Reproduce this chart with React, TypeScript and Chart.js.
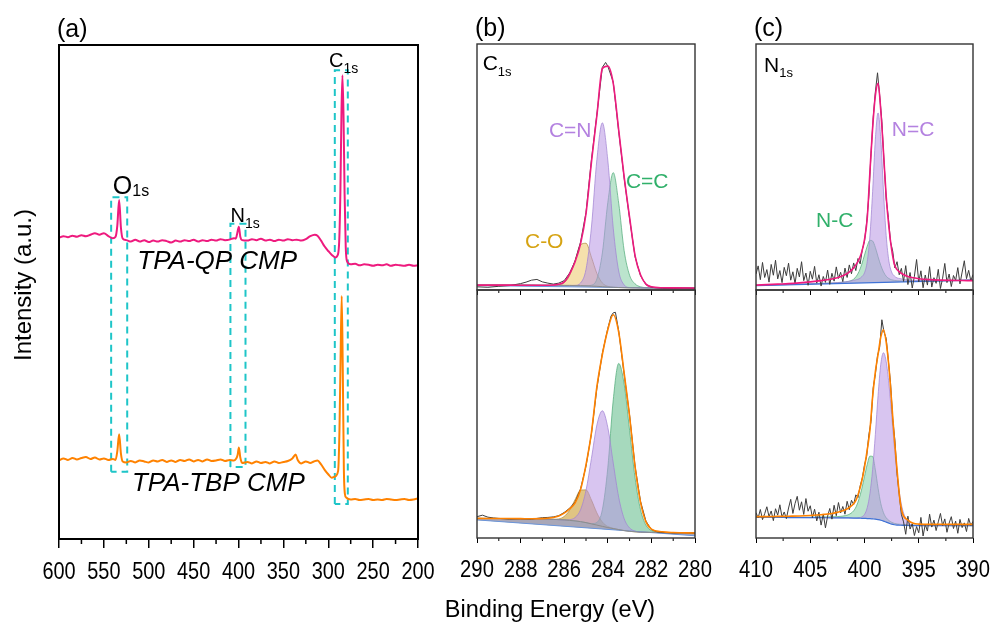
import React, { useEffect, useRef } from "react";
import { Chart, registerables } from "chart.js";
Chart.register(...registerables);

// ---------------- Panel (a): survey spectra ----------------
const SURVEY_MINOR = [575, 525, 475, 425, 375, 325, 275, 225];
const QP_BE = [600,595,590,585,580,575,570,565,560,555,550,545,540,537,535,533,531,529,525,520,515,510,505,500,495,490,485,480,475,470,465,460,455,450,445,440,435,430,425,420,415,410,405,403,401.5,399.6,398,396,390,385,380,375,370,365,360,355,350,345,340,335,330,325,320,315,312,308,304,300,296,292,290,288,286.5,285.3,284.2,283,281.8,280.5,279,275,270,265,260,255,250,245,240,235,230,225,220,215,210,205,200];
const QP_INT = [61.0,61.3,61.1,61.4,61.2,61.5,61.3,61.6,61.9,61.6,61.9,61.3,60.9,61.2,63.5,68.6,63.0,60.8,60.5,60.2,60.6,60.2,60.5,60.1,60.4,60.2,60.5,60.3,60.0,60.4,60.2,60.5,60.3,60.6,60.2,60.5,60.3,60.6,60.4,60.7,60.5,60.6,60.9,60.8,61.8,63.2,61.2,60.5,60.4,60.7,60.5,60.8,60.4,60.6,60.3,60.6,60.4,60.7,60.5,60.6,60.4,60.7,61.3,61.6,61.4,60.4,59.2,58.3,57.5,57.0,57.3,59.5,70,86,93.9,86,70,59,56.2,55.6,55.7,55.4,55.6,55.5,55.3,55.5,55.4,55.6,55.3,55.5,55.4,55.3,55.5,55.3,55.4];
const TBP_BE = [600,595,590,585,580,575,570,565,560,555,550,545,540,537,535,533,531,529,525,520,515,510,505,500,495,490,485,480,475,470,465,460,455,450,445,440,435,430,425,420,415,410,405,402.5,401,399.6,398,396,390,385,380,375,370,365,360,355,350,345,340,336.3,334,330,325,320,316,312,308,304,300,296,293,289,287.5,286.3,285,283.8,282.6,281.5,280,275,270,265,260,255,250,245,240,235,230,225,220,215,210,205,200];
const TBP_INT = [15.9,16.3,16.0,16.4,16.1,16.4,16.6,16.2,16.5,16.1,16.3,16.0,16.2,16.0,17.8,21.2,17.3,15.7,15.5,15.8,15.5,15.9,15.7,15.5,15.9,15.7,16.0,15.6,15.9,15.6,16.0,15.8,16.1,15.7,16.0,15.7,16.1,15.8,15.9,16.1,15.8,16.0,15.9,16.3,17.0,18.5,16.5,15.4,15.6,15.3,15.7,15.4,15.6,15.3,15.7,15.4,15.6,15.8,16.3,17.1,16.0,15.3,15.7,15.4,15.7,15.9,15.1,14.0,13.1,12.4,12.6,13.8,22,36,49.2,34,14,9.2,8.4,8.0,8.1,7.9,8.0,8.1,7.9,8.0,7.9,8.1,8.0,7.9,8.0,8.1,7.9,8.0,8.2];
const BOX_O_BE = [541.9, 541.9, 524, 524, 541.9];
const BOX_O_INT = [13.6, 69.2, 69.2, 13.6, 13.6];
const BOX_N_BE = [409, 409, 392.2, 392.2, 409];
const BOX_N_INT = [14.6, 63.8, 63.8, 14.6, 14.6];
const BOX_C_BE = [292.7, 292.7, 278.2, 278.2, 292.7];
const BOX_C_INT = [7.1, 94.9, 94.9, 7.1, 7.1];

// ---------------- Panel (b): C1s ----------------
const C1S_MINOR = [289, 287, 285, 283, 281];
const C1S_BE = [290,289,288,287.5,287,286.5,286.25,286,285.75,285.5,285.25,285,284.75,284.5,284.25,284,283.75,283.5,283.25,283,282.75,282.5,282.25,282,281.5,281,280];
const LIN_BE = [290, 280];
// top (TPA-QP CMP)
const QP_C_SHIRLEY = [2.0,2.0,1.95,1.95,1.9,1.9,1.9,1.85,1.85,1.8,1.75,1.7,1.6,1.5,1.35,1.2,1.1,1.0,0.95,0.9,0.9,0.85,0.85,0.85,0.8,0.8,0.8];
const QP_C_LIN = [1.8, 0.6];
const QP_C_CO = [2.0,2.0,1.95,1.95,1.9,1.9,2.1,2.95,5.95,12.1,18.35,19.0,13.3,6.7,2.85,1.5,1.1,1.0,0.95,0.9,0.9,0.85,0.85,0.85,0.8,0.8,0.8];
const QP_C_CN = [2.0,2.0,1.95,1.95,1.9,1.9,1.9,1.85,1.85,1.9,2.85,8.4,25.6,53.1,67.95,52.8,25.1,7.7,2.05,1.0,0.9,0.85,0.85,0.85,0.8,0.8,0.8];
const QP_C_CC = [2.0,2.0,1.95,1.95,1.9,1.9,1.9,1.85,1.85,1.8,1.75,1.7,1.95,4.5,15.05,35.5,47.7,35.3,16.0,6.0,2.5,1.3,0.95,0.85,0.8,0.8,0.8];
const QP_C_FIT = [2.0,2.0,1.95,1.95,1.95,2.05,2.3,3.3,6.6,11.5,18.8,31,52,71,90,91,84,65,46,29.5,14,6.2,2.4,1.3,0.9,0.85,0.8];
const QP_C_RAW_BE = [290,289.5,289,288.5,288,287.75,287.5,287.25,287,286.75,286.5,286.25,286,285.75,285.5,285.25,285,284.75,284.5,284.25,284.1,284,283.75,283.5,283.25,283,282.75,282.5,282.25,282,281.5,281,280.5,280];
const QP_C_RAW = [1.3,1.1,1.5,1.8,2.6,3.2,4.0,4.3,3.3,2.8,2.4,2.8,3.8,6.9,11.8,19.5,31.5,53,71.5,90.5,92.5,91,84.5,64.5,45.5,29,13.5,5.8,2.2,1.1,0.7,0.6,0.7,0.6];
// bottom (TPA-TBP CMP)
const TBP_C_SHIRLEY = [7.9,7.85,7.75,7.7,7.6,7.5,7.4,7.3,7.1,6.9,6.6,6.2,5.7,5.2,4.7,4.2,3.8,3.4,3.0,2.7,2.5,2.35,2.3,2.25,2.2,2.15,2.1];
const TBP_C_LIN = [7.3, 0.9];
const TBP_C_CO = [7.9,7.85,7.75,7.7,7.6,7.55,7.7,8.7,11.2,15.5,19.3,19.4,15.3,10.1,6.45,4.65,3.9,3.4,3.0,2.7,2.5,2.35,2.3,2.25,2.2,2.15,2.1];
const TBP_C_CN = [7.9,7.85,7.75,7.7,7.6,7.5,7.4,7.3,7.4,8.25,11.4,19.2,32.1,45.6,51.3,44.6,30.2,16.4,7.8,4.05,2.8,2.35,2.3,2.25,2.2,2.15,2.1];
const TBP_C_CC = [7.9,7.85,7.75,7.7,7.6,7.5,7.4,7.3,7.1,6.9,6.6,6.2,5.8,6.3,11.4,28.3,55.7,70.4,62.1,43.4,24.3,11.45,5.2,3.0,2.2,2.15,2.1];
const TBP_C_FIT = [7.9,7.85,7.8,7.75,7.8,8.3,8.9,10.0,11.8,14.2,19.5,29.5,42.5,61,74,84,90,83,66.5,49,28.8,14.5,6.5,3.6,2.5,2.2,2.0];
const TBP_C_RAW_BE = [290,289.75,289.5,289.25,289,288.5,288,287.5,287,286.75,286.5,286.25,286,285.75,285.5,285.25,285,284.75,284.5,284.25,284,283.85,283.75,283.65,283.5,283.25,283,282.75,282.5,282.25,282,281.75,281.5,281,280.5,280];
const TBP_C_RAW = [8.6,9.2,8.4,8.1,7.9,7.6,7.7,7.6,8.2,8.3,8.5,9.0,10.3,12.0,14.5,19.8,29.0,42,60.5,74.5,84.5,89.5,90.8,91,83.5,66,49.5,29,14.8,6.8,3.4,2.5,2.2,2.0,2.1,1.9];

// ---------------- Panel (c): N1s ----------------
const N1S_MINOR = [407.5, 402.5, 397.5, 392.5];
const N1S_BE = [410,409,408,407,406,405,404,403,402.5,402,401.5,401,400.75,400.5,400.25,400,399.75,399.5,399.25,399,398.75,398.5,398.25,398,397.75,397.5,397.25,397,396.75,396.5,396,395.5,395,394,393,392,391,390];
const BG_N_BE = [410, 390];
const QP_N_BG = [1.8, 4.0];
const QP_N_NC = [1.84,1.96,2.09,2.21,2.35,2.5,2.67,2.89,3.02,3.2,3.5,3.9,4.2,4.55,5.4,7.0,11.5,22.0,40.1,61.3,72.0,61.4,40.2,22.1,11.75,7.3,5.7,4.9,4.66,4.4,4.08,3.95,3.86,3.81,3.84,3.9,3.99,4.08];
const QP_N_NCS = [1.9,2.0,2.12,2.24,2.36,2.5,2.7,2.8,2.95,3.15,3.45,4.4,5.6,7.55,10.5,14.2,17.8,20.2,19.9,17.3,13.5,10.05,7.35,5.6,4.65,4.15,3.9,3.75,3.72,3.65,3.65,3.6,3.6,3.65,3.74,3.84,3.94,4.05];
const QP_N_FIT = [2.0,2.2,2.4,2.6,2.9,3.3,3.8,4.5,5.0,5.8,7.0,9.0,10.5,12.5,15.5,20.5,29,48,66,79,84,73,56,38,25.5,16.5,10.5,8.3,7.3,6.5,5.5,5.0,4.6,4.2,4.0,3.9,3.85,3.8];
const N_RAW_BE = [410,409.8,409.6,409.4,409.2,409,408.8,408.6,408.4,408.2,408,407.8,407.6,407.4,407.2,407,406.8,406.6,406.4,406.2,406,405.8,405.6,405.4,405.2,405,404.8,404.6,404.4,404.2,404,403.8,403.6,403.4,403.2,403,402.8,402.6,402.4,402.2,402,401.8,401.6,401.4,401.2,401,400.8,400.6,400.4,400.2,400,399.8,399.6,399.4,399.2,399,398.8,398.6,398.4,398.2,398,397.8,397.6,397.4,397.2,397,396.8,396.6,396.4,396.2,396,395.8,395.6,395.4,395.2,395,394.8,394.6,394.4,394.2,394,393.8,393.6,393.4,393.2,393,392.8,392.6,392.4,392.2,392,391.8,391.6,391.4,391.2,391,390.8,390.6,390.4,390.2,390];
const QP_N_RAW = [6.5,9.8,4.2,11.2,5.1,8.3,3.2,10.4,6.0,12.1,4.5,7.9,3.0,9.2,5.8,10.9,4.0,7.4,2.6,8.8,5.3,11.5,3.8,6.9,1.9,7.6,4.4,9.6,2.8,6.2,1.6,5.5,3.1,8.1,2.3,6.8,3.6,9.4,4.7,7.2,3.4,8.9,5.1,10.2,6.6,11.0,7.9,12.8,10.6,16.5,19.8,27.5,38.0,55.5,70.0,80.5,88.3,79.0,68.5,52.0,37.0,29.5,19.5,15.8,9.0,11.5,6.2,8.8,3.5,9.9,2.2,7.1,0.8,5.6,12.4,3.3,7.8,0.9,6.1,2.0,9.5,1.2,5.0,2.7,8.4,0.6,4.8,10.8,3.0,6.5,1.4,5.9,3.9,9.1,2.5,7.3,11.9,4.6,8.0,3.7,6.3];
const TBP_N_SHIRLEY = [8.3,8.3,8.3,8.25,8.25,8.2,8.2,8.15,8.15,8.1,8.1,8.05,8.0,8.0,7.95,7.9,7.85,7.8,7.7,7.6,7.4,7.15,6.8,6.4,6.0,5.6,5.35,5.2,5.15,5.1,5.05,5.0,5.0,5.0,5.0,5.0,5.0,5.0];
const TBP_N_NC = [8.3,8.3,8.3,8.25,8.25,8.2,8.2,8.15,8.15,8.1,8.1,8.05,8.05,8.15,8.5,9.5,12.2,17.9,27.7,41.8,57.4,70.05,74.7,71.1,62.1,49.8,36.95,25.8,17.3,11.6,6.45,5.2,5.0,5.0,5.0,5.0,5.0,5.0];
const TBP_N_NCS = [8.3,8.3,8.3,8.25,8.3,8.35,8.46,8.55,8.65,8.85,9.36,10.95,12.8,15.8,19.85,24.8,29.65,33.0,32.9,27.5,20.1,13.95,10.2,8.15,7.06,6.35,5.9,5.66,5.55,5.45,5.3,5.2,5.15,5.1,5.05,5.0,5.0,5.0];
const TBP_N_FIT = [8.6,8.6,8.7,8.8,8.9,9.1,9.4,9.9,10.4,11.0,12.0,13.8,15.6,18.8,23.0,28.5,35.5,43.5,57,67,74,81,84,79,69,55,40,27.5,16,10.0,7.2,5.9,5.6,5.5,5.5,5.5,5.5,5.5];
const TBP_N_RAW = [10.2,8.1,11.5,7.4,9.8,12.6,8.6,10.9,7.0,11.8,9.2,13.4,8.4,10.5,7.8,12.1,15.6,9.9,13.9,16.8,11.2,14.6,9.5,15.9,10.8,13.0,8.2,11.6,6.9,10.4,5.2,9.7,4.1,8.8,11.9,7.6,13.2,9.0,14.3,10.1,12.7,9.6,14.8,11.4,15.2,13.5,17.4,16.3,21.0,24.2,29.5,33.0,41.5,47.0,60.5,66.0,73.5,77.0,88.0,83.0,80.5,71.5,62.5,48.0,39.5,26.0,17.5,9.5,6.5,1.5,8.8,3.6,5.8,1.0,4.6,2.1,8.3,0.8,5.5,2.8,9.6,4.4,7.2,3.0,6.5,9.9,4.9,7.7,2.3,6.0,8.6,3.8,6.8,1.9,7.5,4.2,6.1,2.6,7.9,5.0,6.7];

// ---------------- styling ----------------
const SANS = '"Liberation Sans", Arial, sans-serif';
const PINK = "#EE1A7E";
const ORANGE = "#FF8200";
const CYAN = "#1EC5C8";
const PURPLE_FILL = "rgba(184,150,228,0.55)";
const PURPLE_LINE = "rgba(160,130,210,0.9)";
const GREEN_FILL = "rgba(94,190,136,0.42)";
const GREEN_FILL_2 = "rgba(84,182,128,0.52)";
const GREEN_LINE = "rgba(80,170,120,0.9)";
const GOLD_FILL = "rgba(232,186,70,0.45)";
const GOLD_FILL_2 = "rgba(205,160,55,0.62)";
const GOLD_LINE = "rgba(170,135,55,0.9)";
const PURPLE_TXT = "#B482E0";
const GREEN_TXT = "#30B06A";
const GOLD_TXT = "#D6A312";

const pts = (xs: number[], ys: number[]) => xs.map((x, i) => ({ x, y: ys[i] }));

type TextItem = {
  t: string; sub?: string; x: number; y: number; px?: boolean;
  font: string; subFont?: string; subDy?: number; color: string; rot?: number; center?: boolean;
};

const decor = {
  id: "decor",
  afterDraw(chart: any, _args: any, o: any) {
    const { ctx, chartArea: ca, scales } = chart;
    ctx.save();
    if (o.minor) {
      ctx.strokeStyle = "#000";
      ctx.lineWidth = o.minor.width;
      ctx.beginPath();
      for (const v of o.minor.values) {
        const x = scales.x.getPixelForValue(v);
        ctx.moveTo(x, ca.bottom);
        ctx.lineTo(x, ca.bottom + o.minor.len);
      }
      ctx.stroke();
    }
    // tick labels of the x scale (condensed glyphs like the reference)
    if (o.tickLabels) {
      const tl = o.tickLabels;
      ctx.fillStyle = "#000";
      ctx.textAlign = "center";
      ctx.textBaseline = "alphabetic";
      ctx.font = `${tl.size}px ${SANS}`;
      for (const tk of scales.x.ticks) {
        const x = scales.x.getPixelForValue(tk.value);
        ctx.save();
        ctx.translate(x, ca.bottom + tl.dy);
        ctx.scale(tl.sx, 1);
        ctx.fillText(String(tk.value), 0, 0);
        ctx.restore();
      }
    }
    ctx.strokeStyle = o.frame.color;
    ctx.lineWidth = o.frame.width;
    ctx.strokeRect(ca.left, ca.top, ca.right - ca.left, ca.bottom - ca.top);
    for (const it of (o.texts || []) as TextItem[]) {
      let x: number, y: number;
      if (it.px) { x = ca.left + it.x; y = ca.top + it.y; }
      else { x = scales.x.getPixelForValue(it.x); y = scales.y.getPixelForValue(it.y); }
      ctx.save();
      ctx.translate(x, y);
      if (it.rot) ctx.rotate(it.rot);
      ctx.fillStyle = it.color;
      ctx.textBaseline = "alphabetic";
      ctx.textAlign = "left";
      ctx.font = it.font;
      const w = ctx.measureText(it.t).width;
      let total = w;
      if (it.sub && it.subFont) { ctx.font = it.subFont; total += ctx.measureText(it.sub).width; ctx.font = it.font; }
      const x0 = it.center ? -total / 2 : 0;
      ctx.fillText(it.t, x0, 0);
      if (it.sub && it.subFont) { ctx.font = it.subFont; ctx.fillText(it.sub, x0 + w, it.subDy || 0); }
      ctx.restore();
    }
    ctx.restore();
  },
};

function xAxis(min: number, max: number, step: number, o: { tl: number; h: number; lw: number }) {
  return {
    type: "linear", reverse: true, min, max,
    afterFit: (s: any) => { s.height = o.h; },
    ticks: { display: false, stepSize: step, autoSkip: false, maxRotation: 0, minRotation: 0 },
    grid: { display: true, drawOnChartArea: false, drawTicks: true, tickLength: o.tl, tickWidth: o.lw, tickColor: "#000", color: "#000", lineWidth: o.lw },
    border: { display: false },
  };
}

function baseOptions(padding: any, x: any, decorOpts: any) {
  return {
    responsive: false, animation: false, events: [],
    layout: { padding },
    scales: { x, y: { display: false, min: 0, max: 100 } },
    plugins: { legend: { display: false }, tooltip: { enabled: false }, decor: decorOpts },
  };
}

function line(data: any[], color: string, width: number, order: number, smooth = true, extra: any = {}) {
  return {
    data, borderColor: color, borderWidth: width, pointRadius: 0, fill: false, order,
    tension: 0, cubicInterpolationMode: smooth ? "monotone" : "default", ...extra,
  };
}

function component(xs: number[], ys: number[], fillCol: string, lineCol: string, target: number, order: number) {
  return line(pts(xs, ys), lineCol, 0.8, order, true, { fill: target, backgroundColor: fillCol });
}

export default function App() {
  const ra = useRef<HTMLCanvasElement>(null);
  const rb1 = useRef<HTMLCanvasElement>(null);
  const rb2 = useRef<HTMLCanvasElement>(null);
  const rc1 = useRef<HTMLCanvasElement>(null);
  const rc2 = useRef<HTMLCanvasElement>(null);

  useEffect(() => {
    const charts: Chart[] = [];
    const labelsA = { size: 24, sx: 0.83, dy: 40 };
    const labelsB = { size: 23, sx: 0.88, dy: 38.5 };

    // ---- (a)
    const boxStyle = { borderDash: [7, 5] };
    charts.push(new Chart(ra.current!, {
      type: "line",
      data: {
        datasets: [
          line(pts(QP_BE, QP_INT), PINK, 2, 0),
          line(pts(TBP_BE, TBP_INT), ORANGE, 2, 1),
          line(pts(BOX_O_BE, BOX_O_INT), CYAN, 2, 5, false, boxStyle),
          line(pts(BOX_N_BE, BOX_N_INT), CYAN, 2, 5, false, boxStyle),
          line(pts(BOX_C_BE, BOX_C_INT), CYAN, 2, 5, false, boxStyle),
        ] as any,
      },
      options: baseOptions(
        { left: 59, right: 22, top: 45, bottom: 0 },
        xAxis(200, 600, 50, { tl: 9, h: 61, lw: 1.5 }),
        {
          frame: { color: "#000", width: 2 },
          minor: { values: SURVEY_MINOR, len: 5, width: 1.5 },
          tickLabels: labelsA,
          texts: [
            { t: "(a)", x: -2, y: -8.5, px: true, font: `25px ${SANS}`, color: "#000" },
            { t: "Intensity (a.u.)", x: -28.3, y: 240, px: true, font: `24px ${SANS}`, color: "#000", rot: -Math.PI / 2, center: true },
            { t: "O", sub: "1s", x: 540, y: 69.8, font: `25px ${SANS}`, subFont: `16px ${SANS}`, subDy: 1.5, color: "#000" },
            { t: "N", sub: "1s", x: 408.9, y: 64.2, font: `20px ${SANS}`, subFont: `14px ${SANS}`, subDy: 6, color: "#000" },
            { t: "C", sub: "1s", x: 299.1, y: 95.5, font: `20px ${SANS}`, subFont: `14px ${SANS}`, subDy: 6, color: "#000" },
            { t: "TPA-QP CMP", x: 512.8, y: 54.7, font: `italic 26px ${SANS}`, color: "#000" },
            { t: "TPA-TBP CMP", x: 518.8, y: 9.7, font: `italic 26px ${SANS}`, color: "#000" },
          ],
        }
      ) as any,
      plugins: [decor],
    }));

    // ---- (b)
    const bDatasets = (fit: number[], fitCol: string, rawBE: number[], raw: number[], shirley: number[], lin: number[], co: number[], cn: number[], cc: number[], goldFill: string, greenFill: string) => [
      line(pts(C1S_BE, fit), fitCol, 1.6, 0),
      line(pts(rawBE, raw), "#3c3c3c", 1, 1, false),
      line(pts(C1S_BE, shirley), "#8c8c8c", 1, 2),
      line(pts(LIN_BE, lin), "#6b95dc", 1, 3, false),
      component(C1S_BE, co, goldFill, GOLD_LINE, 3, 6),
      component(C1S_BE, cn, PURPLE_FILL, PURPLE_LINE, 3, 4),
      component(C1S_BE, cc, greenFill, GREEN_LINE, 3, 5),
    ];

    charts.push(new Chart(rb1.current!, {
      type: "line",
      data: { datasets: bDatasets(QP_C_FIT, PINK, QP_C_RAW_BE, QP_C_RAW, QP_C_SHIRLEY, QP_C_LIN, QP_C_CO, QP_C_CN, QP_C_CC, GOLD_FILL, GREEN_FILL) as any },
      options: baseOptions(
        { left: 37, right: 25, top: 44, bottom: 0 },
        xAxis(280, 290, 2, { tl: 5, h: 10, lw: 1 }),
        {
          frame: { color: "#333", width: 1.4 },
          minor: { values: C1S_MINOR, len: 3, width: 1 },
          texts: [
            { t: "(b)", x: -2, y: -8, px: true, font: `25px ${SANS}`, color: "#000" },
            { t: "C", sub: "1s", x: 5.7, y: 26, px: true, font: `21px ${SANS}`, subFont: `13px ${SANS}`, subDy: 6, color: "#000" },
            { t: "C=N", x: 286.7, y: 62.3, font: `21px ${SANS}`, color: PURPLE_TXT },
            { t: "C=C", x: 283.17, y: 41.5, font: `21px ${SANS}`, color: GREEN_TXT },
            { t: "C-O", x: 287.8, y: 17.1, font: `21px ${SANS}`, color: GOLD_TXT },
          ],
        }
      ) as any,
      plugins: [decor],
    }));

    charts.push(new Chart(rb2.current!, {
      type: "line",
      data: { datasets: bDatasets(TBP_C_FIT, ORANGE, TBP_C_RAW_BE, TBP_C_RAW, TBP_C_SHIRLEY, TBP_C_LIN, TBP_C_CO, TBP_C_CN, TBP_C_CC, GOLD_FILL_2, GREEN_FILL_2) as any },
      options: baseOptions(
        { left: 37, right: 25, top: 10, bottom: 0 },
        xAxis(280, 290, 2, { tl: 5, h: 88, lw: 1 }),
        {
          frame: { color: "#333", width: 1.4 },
          minor: { values: C1S_MINOR, len: 3, width: 1 },
          tickLabels: labelsB,
          texts: [
            { t: "Binding Energy (eV)", x: 73, y: 327, px: true, font: `23.5px ${SANS}`, color: "#000", center: true },
          ],
        }
      ) as any,
      plugins: [decor],
    }));

    // ---- (c)
    const cDatasetsTop = [
      line(pts(N1S_BE, QP_N_FIT), PINK, 1.6, 0),
      line(pts(N_RAW_BE, QP_N_RAW), "#3c3c3c", 1, 1, false),
      line(pts(BG_N_BE, QP_N_BG), "#3F72D6", 1.2, 2, false),
      component(N1S_BE, QP_N_NC, PURPLE_FILL, PURPLE_LINE, 2, 3),
      component(N1S_BE, QP_N_NCS, GREEN_FILL, GREEN_LINE, 2, 4),
    ];
    charts.push(new Chart(rc1.current!, {
      type: "line",
      data: { datasets: cDatasetsTop as any },
      options: baseOptions(
        { left: 36, right: 22, top: 44, bottom: 0 },
        xAxis(390, 410, 5, { tl: 5, h: 10, lw: 1 }),
        {
          frame: { color: "#333", width: 1.4 },
          minor: { values: N1S_MINOR, len: 3, width: 1 },
          texts: [
            { t: "(c)", x: -2, y: -8, px: true, font: `25px ${SANS}`, color: "#000" },
            { t: "N", sub: "1s", x: 8, y: 27.7, px: true, font: `21px ${SANS}`, subFont: `13px ${SANS}`, subDy: 5.5, color: "#000" },
            { t: "N=C", x: 397.49, y: 62.6, font: `21px ${SANS}`, color: PURPLE_TXT },
            { t: "N-C", x: 404.47, y: 25.6, font: `21px ${SANS}`, color: GREEN_TXT },
          ],
        }
      ) as any,
      plugins: [decor],
    }));

    const cDatasetsBot = [
      line(pts(N1S_BE, TBP_N_FIT), ORANGE, 1.6, 0),
      line(pts(N_RAW_BE, TBP_N_RAW), "#3c3c3c", 1, 1, false),
      line(pts(N1S_BE, TBP_N_SHIRLEY), "#3F72D6", 1.2, 2),
      component(N1S_BE, TBP_N_NC, PURPLE_FILL, PURPLE_LINE, 2, 3),
      component(N1S_BE, TBP_N_NCS, GREEN_FILL, GREEN_LINE, 2, 4),
    ];
    charts.push(new Chart(rc2.current!, {
      type: "line",
      data: { datasets: cDatasetsBot as any },
      options: baseOptions(
        { left: 36, right: 22, top: 10, bottom: 0 },
        xAxis(390, 410, 5, { tl: 5, h: 88, lw: 1 }),
        {
          frame: { color: "#333", width: 1.4 },
          minor: { values: N1S_MINOR, len: 3, width: 1 },
          tickLabels: labelsB,
          texts: [],
        }
      ) as any,
      plugins: [decor],
    }));

    return () => charts.forEach((c) => c.destroy());
  }, []);

  const abs = (l: number, t: number): React.CSSProperties => ({ position: "absolute", left: l, top: t });
  return (
    <div style={{ position: "fixed", left: 0, top: 0, width: 995, height: 626, background: "#fff", overflow: "hidden" }}>
      <canvas ref={ra} width={440} height={600} style={abs(0, 0)} />
      <canvas ref={rb1} width={280} height={300} style={abs(440, 0)} />
      <canvas ref={rb2} width={280} height={346} style={abs(440, 280)} />
      <canvas ref={rc1} width={275} height={300} style={abs(720, 0)} />
      <canvas ref={rc2} width={275} height={346} style={abs(720, 280)} />
    </div>
  );
}
